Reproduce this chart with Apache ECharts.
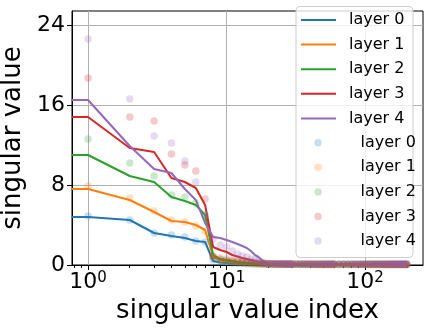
<!DOCTYPE html>
<html>
<head>
<meta charset="utf-8">
<script src="https://cdn.jsdelivr.net/npm/echarts@6/dist/echarts.min.js"></script>
<style>
  html, body { margin: 0; padding: 0; background: #fff; }
  #main { width: 428px; height: 330px; }
</style>
</head>
<body>
<div id="main"></div>
<script>
// singular values per layer, lines = smoothed curve, points = raw values
const X_MIN = 0.766;
const X_MAX = 262;
const layerNames = ['layer 0', 'layer 1', 'layer 2', 'layer 3', 'layer 4'];
const colors = ['#1f77b4', '#ff7f0e', '#2ca02c', '#d62728', '#9467bd'];
const dotColors = ['rgba(31,119,180,0.3)', 'rgba(255,127,14,0.3)', 'rgba(44,160,44,0.3)', 'rgba(214,39,40,0.3)', 'rgba(148,103,189,0.3)'];

const lineIdx = [1, 2, 3, 4, 5, 6, 7, 8, 9, 10, 11, 12, 13, 14, 15, 16, 17, 18, 19, 20, 25, 30, 40, 50, 70, 100, 140, 200];
const line0 = [4.8, 4.5, 3.2, 2.9, 2.7, 2.4, 2.3, 0.4, 0.25, 0.2, 0.18, 0.15, 0.13, 0.12, 0.1, 0.1, 0.09, 0.09, 0.08, 0.08, 0.07, 0.07, 0.06, 0.06, 0.05, 0.05, 0.05, 0.05];
const line1 = [7.6, 6.5, 5.3, 4.4, 4.3, 4.0, 3.5, 0.8, 0.5, 0.4, 0.3, 0.25, 0.2, 0.18, 0.15, 0.13, 0.12, 0.1, 0.1, 0.09, 0.08, 0.08, 0.07, 0.07, 0.06, 0.06, 0.06, 0.06];
const line2 = [11.0, 8.9, 8.3, 6.8, 6.4, 6.0, 5.0, 1.0, 0.6, 0.5, 0.4, 0.3, 0.25, 0.2, 0.18, 0.15, 0.13, 0.12, 0.1, 0.1, 0.09, 0.08, 0.08, 0.07, 0.07, 0.07, 0.07, 0.07];
const line3 = [14.8, 11.7, 11.3, 8.7, 8.3, 7.7, 6.0, 1.8, 1.5, 1.3, 1.0, 0.85, 0.7, 0.6, 0.5, 0.4, 0.3, 0.25, 0.2, 0.15, 0.12, 0.1, 0.1, 0.09, 0.09, 0.08, 0.08, 0.08];
const line4 = [16.5, 11.9, 9.6, 9.2, 7.6, 6.5, 4.2, 2.8, 2.7, 2.5, 2.3, 2.1, 1.9, 1.7, 1.4, 1.0, 0.8, 0.5, 0.3, 0.15, 0.12, 0.11, 0.1, 0.1, 0.1, 0.1, 0.1, 0.1];

const pointIdx = [
  1, 2, 3, 4, 5, 6, 7, 8, 9, 10, 11, 12, 13, 14, 15, 16, 17, 18, 19, 20,
  21, 22, 23, 24, 25, 26, 27, 28, 29, 30,
  32, 34, 36, 38, 40, 42, 44, 46, 48, 50, 52, 54, 56, 58, 60,
  65, 70, 75, 80, 85, 90, 95, 100, 105, 110, 115, 120, 125, 130,
  135, 140, 145, 150, 155, 160, 165, 170, 175, 180, 185, 190, 195, 200];
const pts0 = [
  4.9, 4.5, 3.2, 3.0, 2.8, 2.4, 2.3, 0.5, 0.3, 0.2, 0.18, 0.15, 0.14, 0.12, 0.11, 0.1, 0.1, 0.09, 0.09, 0.08,
  0.08, 0.08, 0.08, 0.07, 0.07, 0.07, 0.07, 0.07, 0.07, 0.06,
  0.06, 0.06, 0.06, 0.06, 0.06, 0.06, 0.06, 0.06, 0.05, 0.05, 0.05, 0.05, 0.05, 0.05, 0.05,
  0.05, 0.05, 0.05, 0.05, 0.05, 0.05, 0.05, 0.05, 0.05, 0.05, 0.05, 0.05, 0.05, 0.05,
  0.04, 0.04, 0.04, 0.04, 0.04, 0.04, 0.04, 0.04, 0.04, 0.04, 0.04, 0.04, 0.04, 0.04];
const pts1 = [
  7.9, 6.7, 5.4, 4.5, 4.3, 3.9, 3.4, 0.8, 0.5, 0.4, 0.3, 0.25, 0.2, 0.18, 0.15, 0.13, 0.12, 0.1, 0.1, 0.09,
  0.09, 0.09, 0.08, 0.08, 0.08, 0.08, 0.08, 0.07, 0.07, 0.07,
  0.07, 0.07, 0.07, 0.07, 0.07, 0.07, 0.06, 0.06, 0.06, 0.06, 0.06, 0.06, 0.06, 0.06, 0.06,
  0.06, 0.06, 0.06, 0.06, 0.06, 0.06, 0.06, 0.06, 0.06, 0.06, 0.06, 0.06, 0.06, 0.06,
  0.05, 0.05, 0.05, 0.05, 0.05, 0.05, 0.05, 0.05, 0.05, 0.05, 0.05, 0.05, 0.05, 0.05];
const pts2 = [
  12.6, 10.2, 8.9, 7.0, 6.8, 6.2, 4.9, 0.8, 0.55, 0.45, 0.35, 0.3, 0.25, 0.2, 0.18, 0.15, 0.13, 0.12, 0.1, 0.1,
  0.1, 0.09, 0.09, 0.09, 0.09, 0.08, 0.08, 0.08, 0.08, 0.08,
  0.08, 0.08, 0.08, 0.08, 0.08, 0.07, 0.07, 0.07, 0.07, 0.07, 0.07, 0.07, 0.07, 0.07, 0.07,
  0.07, 0.07, 0.07, 0.07, 0.07, 0.07, 0.07, 0.07, 0.07, 0.07, 0.07, 0.07, 0.07, 0.07,
  0.06, 0.06, 0.06, 0.06, 0.06, 0.06, 0.06, 0.06, 0.06, 0.06, 0.06, 0.06, 0.06, 0.06];
const pts3 = [
  18.7, 14.8, 14.4, 11.1, 10.0, 9.4, 6.6, 0.9, 0.7, 0.6, 0.5, 0.45, 0.4, 0.35, 0.3, 0.25, 0.2, 0.18, 0.15, 0.12,
  0.12, 0.11, 0.11, 0.1, 0.1, 0.1, 0.1, 0.09, 0.09, 0.09,
  0.09, 0.09, 0.09, 0.09, 0.09, 0.08, 0.08, 0.08, 0.08, 0.08, 0.08, 0.08, 0.08, 0.08, 0.08,
  0.08, 0.08, 0.08, 0.08, 0.08, 0.08, 0.08, 0.08, 0.08, 0.08, 0.08, 0.08, 0.08, 0.08,
  0.07, 0.07, 0.07, 0.07, 0.07, 0.07, 0.07, 0.07, 0.07, 0.07, 0.07, 0.07, 0.07, 0.07];
const pts4 = [
  22.6, 16.6, 12.9, 12.2, 10.4, 8.3, 5.0, 2.6, 2.0, 1.8, 1.4, 1.1, 0.9, 0.8, 0.6, 0.5, 0.4, 0.3, 0.2, 0.15,
  0.14, 0.13, 0.13, 0.12, 0.12, 0.12, 0.11, 0.11, 0.11, 0.11,
  0.11, 0.11, 0.11, 0.11, 0.11, 0.1, 0.1, 0.1, 0.1, 0.1, 0.1, 0.1, 0.1, 0.1, 0.1,
  0.1, 0.1, 0.1, 0.1, 0.1, 0.1, 0.1, 0.1, 0.1, 0.1, 0.1, 0.1, 0.1, 0.1,
  0.09, 0.09, 0.09, 0.09, 0.09, 0.09, 0.09, 0.09, 0.09, 0.09, 0.09, 0.09, 0.09, 0.09];

const yTicks = [0, 8, 16, 24];
const xMajor = [1, 10, 100];
const xMinor = [0.8, 0.9, 2, 3, 4, 5, 6, 7, 8, 9, 20, 30, 40, 50, 60, 70, 80, 90, 200];

const FONT = 'DejaVu Sans';
const lines = [line0, line1, line2, line3, line4];
const pts = [pts0, pts1, pts2, pts3, pts4];
const pointNames = layerNames.map(n => n + ' (points)');

let series = [];
lines.forEach((vals, k) => {
  // the curve in the original runs from index 0, i.e. off the left of the log axis
  let data = [[X_MIN, vals[0]]].concat(lineIdx.map((x, i) => [x, vals[i]]));
  series.push({
    name: layerNames[k],
    type: 'line',
    data: data,
    symbol: 'none',
    lineStyle: { color: colors[k], width: 2 },
    itemStyle: { color: colors[k] },
    z: 2
  });
});
pts.forEach((vals, k) => {
  series.push({
    name: pointNames[k],
    type: 'scatter',
    data: pointIdx.map((x, i) => [x, vals[i]]),
    symbolSize: 7.5,
    itemStyle: { color: dotColors[k] },
    z: 3
  });
});

let myChart = echarts.init(document.getElementById('main'));
let option = {
  animation: false,
  grid: {
    left: 72, top: 11, right: 5, bottom: 65,
    show: true, borderColor: '#000', borderWidth: 1,
    outerBoundsMode: 'none'
  },
  xAxis: [
    {
      type: 'log', logBase: 10, min: X_MIN, max: X_MAX, position: 'bottom',
      name: 'singular value index', nameLocation: 'middle', nameGap: 22,
      nameTextStyle: { fontSize: 26, fontFamily: FONT, color: '#000' },
      axisLine: { show: true, lineStyle: { color: '#000', width: 1 } },
      axisTick: { show: true, length: 5, customValues: xMajor, lineStyle: { color: '#000', width: 1 } },
      axisLabel: {
        customValues: xMajor, margin: 6, color: '#000', fontSize: 22, fontFamily: FONT,
        formatter: function (v) { return '10{sup|' + Math.round(Math.log10(v)) + '}'; },
        rich: { sup: { fontSize: 15, fontFamily: FONT, color: '#000', verticalAlign: 'top' } }
      },
      splitLine: { show: true, lineStyle: { color: '#b0b0b0', width: 1 } }
    },
    {
      type: 'log', logBase: 10, min: X_MIN, max: X_MAX, position: 'bottom', gridIndex: 0,
      axisLine: { show: false },
      axisTick: { show: true, length: 3, customValues: xMinor, lineStyle: { color: '#000', width: 1 } },
      axisLabel: { show: false },
      splitLine: { show: false }
    }
  ],
  yAxis: {
    type: 'value', min: 0, max: 25.4, interval: 8,
    name: 'singular value', nameLocation: 'middle', nameGap: 42, nameRotate: 90,
    nameTextStyle: { fontSize: 26, fontFamily: FONT, color: '#000' },
    axisLine: { show: true, lineStyle: { color: '#000', width: 1 } },
    axisTick: { show: true, length: 5, customValues: yTicks, lineStyle: { color: '#000', width: 1 } },
    axisLabel: { customValues: yTicks, margin: 7, color: '#000', fontSize: 22, fontFamily: FONT },
    splitLine: { show: true, lineStyle: { color: '#b0b0b0', width: 1 } }
  },
  graphic: [{
    type: 'rect', left: 295.5, top: 6, z: 3,
    shape: { width: 117, height: 251, r: 4 },
    style: { fill: 'rgba(255,255,255,0.8)', stroke: '#cccccc', lineWidth: 1 }
  }],
  legend: [
    {
      data: layerNames, orient: 'vertical', left: 301, top: 10, padding: 0,
      icon: 'rect', itemWidth: 35, itemHeight: 2, itemGap: 4.6,
      textStyle: { fontSize: 16, fontFamily: FONT, color: '#000', lineHeight: 20, padding: [0, 0, 0, 8] }
    },
    {
      data: pointNames, orient: 'vertical', left: 314.3, top: 132.7, padding: 0,
      icon: 'circle', itemWidth: 35, itemHeight: 7.5, itemGap: 4.6,
      formatter: function (name) { return name.replace(' (points)', ''); },
      textStyle: { fontSize: 16, fontFamily: FONT, color: '#000', lineHeight: 20, padding: [0, 0, 0, 20] }
    }
  ],
  series: series
};
myChart.setOption(option);
</script>
</body>
</html>
